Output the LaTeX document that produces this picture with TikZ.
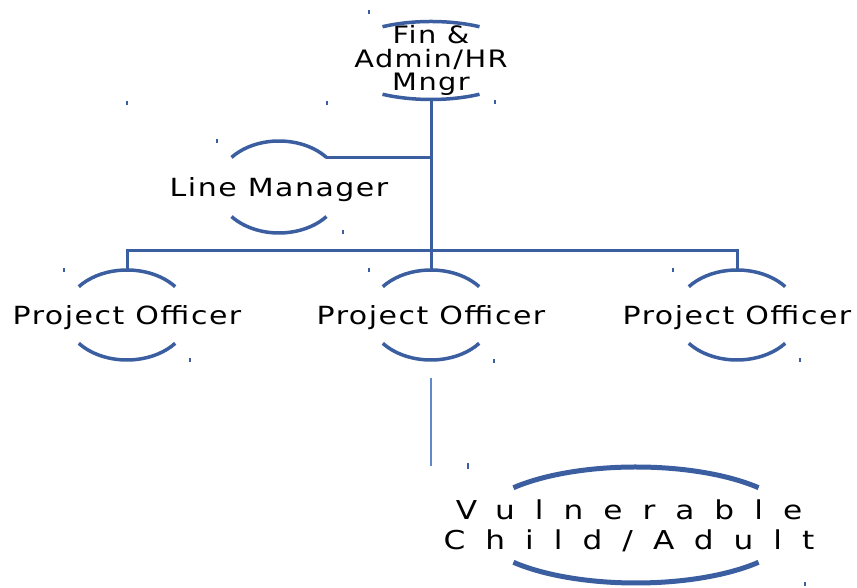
\documentclass[tikz,border=0pt]{standalone}
\usepackage{fontspec}
\setmainfont{DejaVu Sans}
\newfontfamily\orgfont[FakeStretch=1.2,LetterSpace=6]{DejaVu Sans}
\newfontfamily\orgwide[FakeStretch=1.2,LetterSpace=77]{DejaVu Sans}
\definecolor{orgblue}{RGB}{58,94,160}
\definecolor{orglight}{RGB}{96,136,204}

% the two visible arcs of an oval: [style]{centre}{rx}{ry}{angle}
\newcommand{\orgoval}[5][]{%
  \draw[ovalline,#1] (#2) ++(#5:#3 and #4)
    arc[start angle=#5,end angle=180-#5,x radius=#3,y radius=#4];
  \draw[ovalline,#1] (#2) ++(180+#5:#3 and #4)
    arc[start angle=180+#5,end angle=360-#5,x radius=#3,y radius=#4];
}

\begin{document}
\begin{tikzpicture}[
    x=1pt,y=1pt,
    orgnode/.style={inner sep=0pt,align=center,text=black},
    ovalline/.style={orgblue,line width=3.5pt},
    link/.style={orgblue,line width=3pt},
    crop/.style={orgblue,line width=1.5pt}
    ]
  \useasboundingbox (0,0) rectangle (857,588);

  \node[orgnode,font=\orgfont\fontsize{24}{23.5}\selectfont] (fin) at (431,527.5) {Fin \&\\Admin/HR\\Mngr};
  \node[orgnode,font=\orgfont\fontsize{25}{25}\selectfont,text depth=0pt] (lm) at (279,401) {Line Manager};
  \foreach \x/\n in {127/po1,431/po2,737/po3}
    \node[orgnode,font=\orgfont\fontsize{25}{25}\selectfont,text depth=0pt] (\n) at (\x,273) {Project Officer};
  \node[orgnode,font=\orgwide\fontsize{26}{30}\selectfont,text depth=0pt] (vul) at (629,63) {Vulnerable\\Child/Adult};

  \orgoval{fin.center}{97}{39}{60}
  \orgoval{lm.center}{62}{46}{40}
  \foreach \n in {po1,po2,po3}{
    \orgoval{\n.center}{62}{45}{39}
  }
  \orgoval[line width=5pt]{[xshift=7pt]vul.center}{160}{58}{40}

  % connectors
  \coordinate (bar) at (431,337);
  \coordinate (lm-e) at ([shift={(40:62 and 46)}]lm.center);
  \draw[link] ([yshift=-39pt]fin.center) -- (bar);
  \draw[link] (lm-e) -- (lm-e -| fin.center);
  \draw[link] ([yshift=45pt]po1.center) |- (bar) -| ([yshift=45pt]po3.center);
  \draw[link] (bar) -- ([yshift=45pt]po2.center);
  \draw[orglight,line width=1.5pt] ([yshift=-63pt]po2.center) -- ([yshift=-151pt]po2.center);

  % small marks at the box corners
  \foreach \x/\y in {369/576,495/486,127/485,327/485,217/447,343/356,64/318,190/228,
                     369/318,494/227,673/318,800/228,805/4}
    \draw[crop] (\x,\y-2) -- (\x,\y+2);
  \draw[crop] (468,119) -- (468,125);
\end{tikzpicture}
\end{document}
